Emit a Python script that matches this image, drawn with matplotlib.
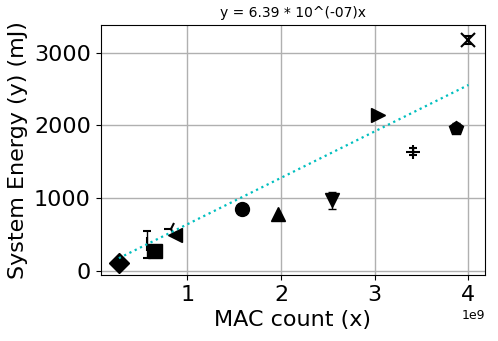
import matplotlib
matplotlib.use("Agg")
import matplotlib.pyplot as plt
import numpy as np

# data (MAC count in units of 1e9, energy in mJ)
mac = [0.27, 0.57, 0.66, 0.83, 0.87, 1.58, 1.97, 2.54, 3.04, 3.41, 3.87, 4.00]
energy = [102, 365, 275, 580, 495, 853, 784, 970, 2146, 1637, 1967, 3174]
err = [0, 185, 0, 0, 0, 0, 0, 117, 0, 50, 60, 55]
markers = ['D', '|', 's', '3', '<', 'o', '^', 'v', '>', '+', 'p', 'x']
slope = 6.39e-7
title = "y = 6.39 * 10^(-07)x"

fig = plt.figure(figsize=(4.98, 3.41), dpi=100)
ax = fig.add_axes([0.202, 0.1935, 0.772, 0.733])

for xv, yv, ev, m in zip(mac, energy, err, markers):
    ax.errorbar(xv * 1e9, yv, yerr=ev if ev else None, fmt=m, color='black',
                markersize=10, capsize=3, ecolor='black', elinewidth=1,
                markeredgewidth=1.5 if m in ('|', '3', '+', 'x') else 1)

xs = np.array([min(mac), max(mac)]) * 1e9
ax.plot(xs, slope * xs, linestyle=':', color='c', linewidth=1.6, zorder=3)

ax.set_xlim(0.075e9, 4.177e9)
ax.set_ylim(-59, 3380)
ax.set_xticks([1e9, 2e9, 3e9, 4e9])
ax.set_yticks([0, 1000, 2000, 3000])
ax.grid(True, color='#b0b0b0', linewidth=1)
ax.set_axisbelow(True)
ax.tick_params(labelsize=16)
ax.xaxis.get_offset_text().set_fontsize(9)
ax.set_xlabel("MAC count (x)", fontsize=16)
ax.set_ylabel("System Energy (y) (mJ)", fontsize=16)
ax.set_title(title, fontsize=10)

fig.savefig("out.png", dpi=100)
